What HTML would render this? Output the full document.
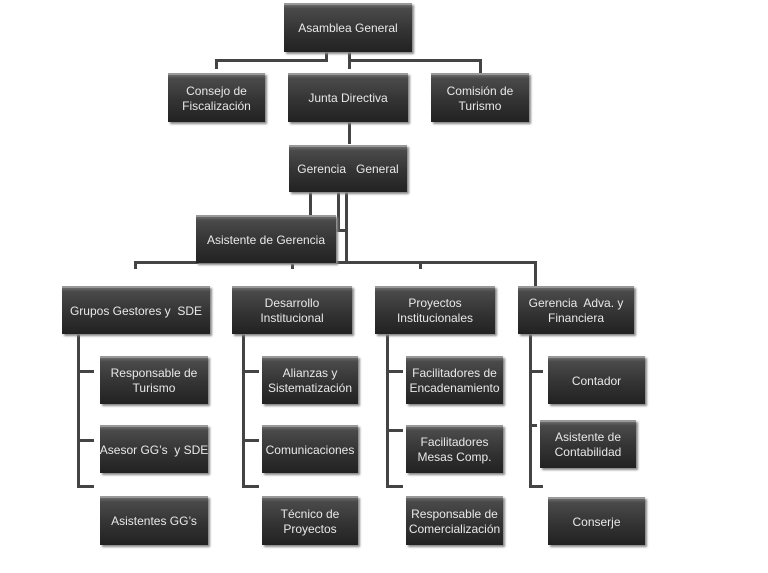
<!DOCTYPE html>
<html><head><meta charset="utf-8"><style>
body{margin:0;width:768px;height:573px;background:#fff;position:relative;overflow:hidden;font-family:"Liberation Sans",sans-serif}
.b{position:absolute;box-sizing:border-box;background:linear-gradient(#6a6a6a 0,#4a4a4a 8%,#333 55%,#222 100%);border-top:2px solid #999;box-shadow:2px 2px 2px #888;color:#e8e8e8;font-size:12px;line-height:15px;display:flex;align-items:center;justify-content:center;text-align:center;white-space:nowrap;overflow:hidden}
.l{position:absolute;background:#444}
</style></head><body>
<div class="l" style="left:325px;top:52px;width:3px;height:9px"></div>
<div class="l" style="left:215px;top:59px;width:113px;height:3px"></div>
<div class="l" style="left:215px;top:59px;width:3px;height:10px"></div>
<div class="l" style="left:348px;top:52px;width:3px;height:17px"></div>
<div class="l" style="left:348px;top:59px;width:133px;height:3px"></div>
<div class="l" style="left:479px;top:59px;width:3px;height:14px"></div>
<div class="l" style="left:348px;top:122px;width:3px;height:22px"></div>
<div class="l" style="left:309px;top:192px;width:3px;height:24px"></div>
<div class="l" style="left:337px;top:192px;width:3px;height:38px"></div>
<div class="l" style="left:336px;top:229px;width:10px;height:3px"></div>
<div class="l" style="left:345px;top:192px;width:3px;height:72px"></div>
<div class="l" style="left:134px;top:261px;width:403px;height:3px"></div>
<div class="l" style="left:134px;top:261px;width:3px;height:8px"></div>
<div class="l" style="left:291px;top:261px;width:3px;height:8px"></div>
<div class="l" style="left:419px;top:261px;width:3px;height:8px"></div>
<div class="l" style="left:534px;top:261px;width:3px;height:25px"></div>
<div class="l" style="left:77px;top:334px;width:3px;height:153px"></div>
<div class="l" style="left:77px;top:370px;width:17px;height:3px"></div>
<div class="l" style="left:77px;top:439px;width:17px;height:3px"></div>
<div class="l" style="left:77px;top:485px;width:17px;height:3px"></div>
<div class="l" style="left:242px;top:334px;width:3px;height:153px"></div>
<div class="l" style="left:242px;top:370px;width:17px;height:3px"></div>
<div class="l" style="left:242px;top:439px;width:17px;height:3px"></div>
<div class="l" style="left:242px;top:485px;width:17px;height:3px"></div>
<div class="l" style="left:386px;top:334px;width:3px;height:153px"></div>
<div class="l" style="left:386px;top:370px;width:17px;height:3px"></div>
<div class="l" style="left:386px;top:429px;width:17px;height:3px"></div>
<div class="l" style="left:386px;top:485px;width:17px;height:3px"></div>
<div class="l" style="left:529px;top:334px;width:3px;height:153px"></div>
<div class="l" style="left:529px;top:370px;width:14px;height:3px"></div>
<div class="l" style="left:529px;top:424px;width:8px;height:3px"></div>
<div class="l" style="left:529px;top:485px;width:14px;height:3px"></div>
<div class="b" style="left:284px;top:3px;width:128px;height:49px">Asamblea General</div>
<div class="b" style="left:168px;top:73px;width:97px;height:49px">Consejo de<br>Fiscalización</div>
<div class="b" style="left:288px;top:73px;width:120px;height:49px">Junta Directiva</div>
<div class="b" style="left:431px;top:73px;width:98px;height:49px">Comisión de<br>Turismo</div>
<div class="b" style="left:289px;top:145px;width:118px;height:47px">Gerencia&nbsp;&nbsp; General</div>
<div class="b" style="left:196px;top:215px;width:140px;height:48px">Asistente de Gerencia</div>
<div class="b" style="left:62px;top:286px;width:148px;height:48px">Grupos Gestores y&nbsp; SDE</div>
<div class="b" style="left:232px;top:286px;width:120px;height:48px">Desarrollo<br>Institucional</div>
<div class="b" style="left:375px;top:286px;width:120px;height:48px">Proyectos<br>Institucionales</div>
<div class="b" style="left:518px;top:286px;width:116px;height:48px">Gerencia&nbsp; Adva. y<br>Financiera</div>
<div class="b" style="left:100px;top:356px;width:108px;height:48px">Responsable de<br>Turismo</div>
<div class="b" style="left:100px;top:425px;width:108px;height:48px">Asesor GG’s&nbsp; y SDE</div>
<div class="b" style="left:100px;top:496px;width:108px;height:49px">Asistentes GG’s</div>
<div class="b" style="left:262px;top:356px;width:96px;height:48px">Alianzas y<br>Sistematización</div>
<div class="b" style="left:262px;top:425px;width:96px;height:48px">Comunicaciones</div>
<div class="b" style="left:262px;top:496px;width:96px;height:49px">Técnico de<br>Proyectos</div>
<div class="b" style="left:406px;top:356px;width:97px;height:48px">Facilitadores de<br>Encadenamiento</div>
<div class="b" style="left:406px;top:425px;width:97px;height:48px">Facilitadores<br>Mesas Comp.</div>
<div class="b" style="left:406px;top:496px;width:97px;height:49px">Responsable de<br>Comercialización</div>
<div class="b" style="left:548px;top:356px;width:97px;height:48px">Contador</div>
<div class="b" style="left:540px;top:420px;width:96px;height:48px">Asistente de<br>Contabilidad</div>
<div class="b" style="left:548px;top:497px;width:97px;height:48px">Conserje</div>
</body></html>
